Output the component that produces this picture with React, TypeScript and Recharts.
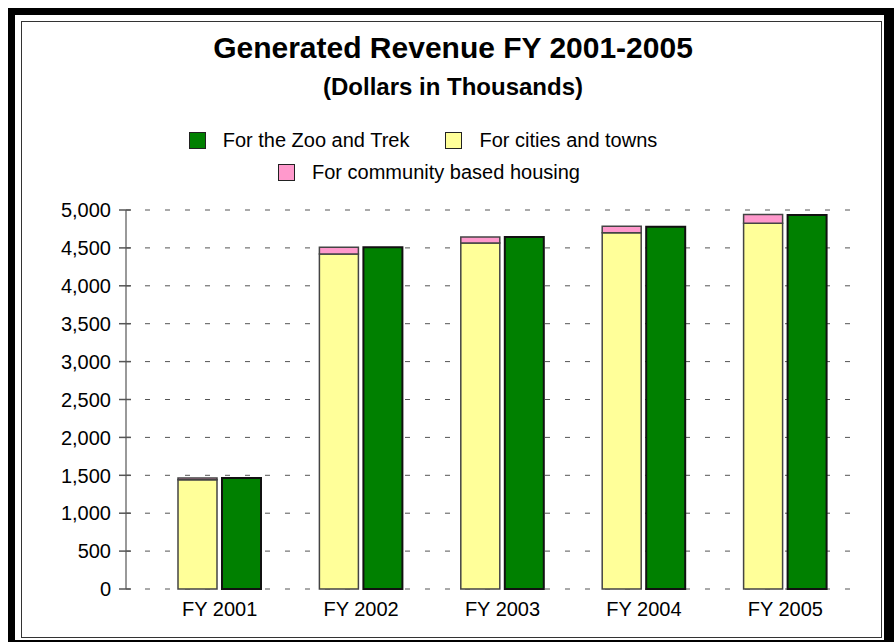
import { BarChart, Bar, XAxis, YAxis, CartesianGrid, Legend } from 'recharts';

const categories = ['FY 2001', 'FY 2002', 'FY 2003', 'FY 2004', 'FY 2005'];
const zooTrek = [1465, 4510, 4645, 4780, 4935];
const citiesTowns = [1440, 4420, 4565, 4700, 4825];
const communityHousing = [25, 90, 80, 85, 115];
const yTicks = [0, 500, 1000, 1500, 2000, 2500, 3000, 3500, 4000, 4500, 5000];

const data = categories.map((name, i) => ({
  name,
  zoo: zooTrek[i],
  cities: citiesTowns[i],
  housing: communityHousing[i],
}));

const FONT = '"Liberation Sans", Arial, sans-serif';

// y tick: cross-shaped tick mark + right aligned label
function YTick(props: any) {
  const { x, y, payload } = props;
  return (
    <g>
      <line x1={x + 9} x2={x + 21} y1={y} y2={y} stroke="#555" strokeWidth={1.5} />
      <text x={x + 1} y={y} dy="0.36em" textAnchor="end" fontSize={20} fill="#000" fontFamily={FONT}>
        {Number(payload.value).toLocaleString('en-US')}
      </text>
    </g>
  );
}

function LegendContent(props: any) {
  const items = props.payload || [];
  const byKey = (k: string) => items.find((p: any) => p.dataKey === k);
  const rows = [[byKey('zoo'), byKey('cities')], [byKey('housing')]];
  return (
    <div style={{ fontFamily: FONT, fontSize: 20, color: '#000' }}>
      {rows.map((row, r) => (
        <div
          key={r}
          style={{ display: 'flex', justifyContent: 'center', height: 32, alignItems: 'center', paddingLeft: r === 1 ? 12 : 0 }}
        >
          {row.filter(Boolean).map((p: any, i: number) => (
            <div key={p.value} style={{ display: 'flex', alignItems: 'center', marginLeft: i > 0 ? 36 : 0 }}>
              <span
                style={{
                  width: 15,
                  height: 15,
                  background: p.color,
                  border: '1.5px solid #222',
                  marginRight: 17,
                  display: 'inline-block',
                }}
              />
              <span>{p.value}</span>
            </div>
          ))}
        </div>
      ))}
    </div>
  );
}

export default function App() {
  return (
    <div style={{ position: 'absolute', left: 0, top: 0, width: 894, height: 642, overflow: 'hidden', background: '#fff', fontFamily: FONT }}>
      {/* frame */}
      <div style={{ position: 'absolute', left: 8, top: 8, width: 886, height: 634, background: '#000' }} />
      <div style={{ position: 'absolute', left: 15, top: 15, width: 869, height: 625, background: '#fff' }} />
      <div style={{ position: 'absolute', left: 21, top: 21, width: 859, height: 615, border: '1.5px solid #333' }} />

      <div style={{ position: 'absolute', left: 153, top: 32, width: 600, textAlign: 'center', fontSize: 30, fontWeight: 'bold', lineHeight: '32px' }}>
        Generated Revenue FY 2001-2005
      </div>
      <div style={{ position: 'absolute', left: 153, top: 74, width: 600, textAlign: 'center', fontSize: 24, fontWeight: 'bold', lineHeight: '26px' }}>
        (Dollars in Thousands)
      </div>

      <div style={{ position: 'absolute', left: 0, top: 0 }}>
        <BarChart
          width={894}
          height={642}
          data={data}
          margin={{ top: 210, right: 38, left: 0, bottom: 23 }}
          barSize={39}
          barGap={5}
        >
          <CartesianGrid vertical={false} stroke="#555" strokeDasharray="5 15" strokeDashoffset={1} />
          <XAxis
            dataKey="name"
            height={30}
            axisLine={false}
            tickLine={false}
            tickSize={0}
            tickMargin={13}
            padding={{ left: 23, right: 0 }}
            tick={{ fontSize: 20, fill: '#000', fontFamily: FONT }}
          />
          <YAxis
            width={126}
            domain={[0, 5000]}
            ticks={yTicks}
            interval={0}
            axisLine={{ stroke: '#777', strokeWidth: 1.5 }}
            tickLine={false}
            tickSize={7}
            tickMargin={9}
            tick={<YTick />}
          />
          <Legend
            layout="horizontal"
            verticalAlign="middle"
            align="center"
            wrapperStyle={{ left: 0, top: 124, width: 846 }}
            content={<LegendContent />}
          />
          <Bar dataKey="cities" name="For cities and towns" stackId="a" fill="#FFFF99" stroke="#444" strokeWidth={1.5} isAnimationActive={false} />
          <Bar dataKey="housing" name="For community based housing" stackId="a" fill="#FF99CC" stroke="#444" strokeWidth={1.5} isAnimationActive={false} />
          <Bar dataKey="zoo" name="For the Zoo and Trek" stackId="b" fill="#008000" stroke="#111" strokeWidth={2} isAnimationActive={false} />
        </BarChart>
      </div>
    </div>
  );
}
